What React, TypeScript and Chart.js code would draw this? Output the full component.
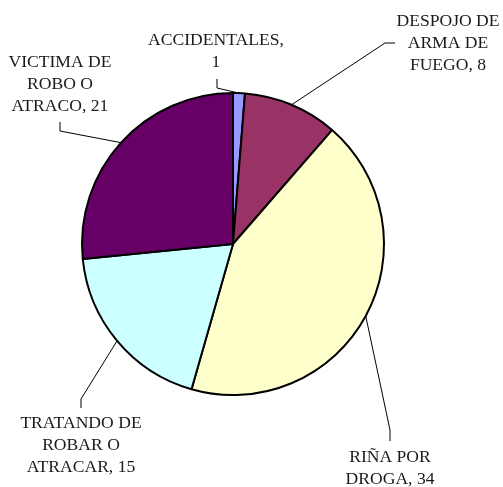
import React, { useEffect, useRef } from "react";
import { Chart, registerables } from "chart.js";

Chart.register(...registerables);

const categories = [
  "ACCIDENTALES",
  "DESPOJO DE ARMA DE FUEGO",
  "RIÑA POR DROGA",
  "TRATANDO DE ROBAR O ATRACAR",
  "VICTIMA DE ROBO O ATRACO",
];
const values = [1, 8, 34, 15, 21];
const colors = ["#9999FF", "#993366", "#FFFFCC", "#CCFFFF", "#660066"];
// words per line for each label
const lineWords = [
  [1, 1],
  [2, 2, 2],
  [2, 2],
  [2, 2, 2],
  [2, 2, 2],
];

// layout: label center x, first line middle y, elbow point, leader end near label
const labelLayout = [
  { x: 216, y: 40, elbow: [217, 88], end: [217, 79] },
  { x: 448, y: 21, elbow: [385, 43], end: [395, 43] },
  { x: 390, y: 457, elbow: [390, 430], end: [390, 441] },
  { x: 81, y: 423, elbow: [81, 399], end: [81, 408] },
  { x: 60, y: 62, elbow: [60, 131], end: [60, 122] },
];

const FONT = '17.6px "Liberation Serif", "Times New Roman", serif';
const LINE_H = 22;

const labelPlugin = {
  id: "pieLabels",
  afterDatasetsDraw(chart: any) {
    const ctx = chart.ctx as CanvasRenderingContext2D;
    const meta = chart.getDatasetMeta(0);
    meta.data.forEach((arc: any, i: number) => {
      const p = arc.getProps(["x", "y", "startAngle", "endAngle", "outerRadius"], true);
      const mid = (p.startAngle + p.endAngle) / 2;
      const ax = p.x + Math.cos(mid) * p.outerRadius;
      const ay = p.y + Math.sin(mid) * p.outerRadius;
      const L = labelLayout[i];
      ctx.save();
      ctx.strokeStyle = "#000";
      ctx.lineWidth = 1;
      ctx.beginPath();
      ctx.moveTo(ax, ay);
      ctx.lineTo(L.elbow[0], L.elbow[1]);
      ctx.lineTo(L.end[0], L.end[1]);
      ctx.stroke();

      const words = `${categories[i]}, ${values[i]}`.split(" ");
      const lines: string[] = [];
      let k = 0;
      for (const n of lineWords[i]) {
        lines.push(words.slice(k, k + n).join(" "));
        k += n;
      }
      ctx.fillStyle = "#1a1a1a";
      ctx.font = FONT;
      ctx.textAlign = "center";
      ctx.textBaseline = "middle";
      lines.forEach((t, j) => ctx.fillText(t, L.x, L.y + j * LINE_H));
      ctx.restore();
    });
  },
};

export default function App() {
  const ref = useRef<HTMLCanvasElement | null>(null);
  useEffect(() => {
    if (!ref.current) return;
    const chart = new Chart(ref.current, {
      type: "pie",
      data: {
        labels: categories,
        datasets: [
          {
            data: values,
            backgroundColor: colors,
            borderColor: "#000",
            borderWidth: 2,
          },
        ],
      },
      options: {
        responsive: false,
        animation: false,
        devicePixelRatio: 1,
        layout: { padding: { left: 81, right: 118, top: 92, bottom: 91 } },
        plugins: {
          legend: { display: false },
          tooltip: { enabled: false },
        },
      },
      plugins: [labelPlugin],
    });
    return () => chart.destroy();
  }, []);
  return (
    <div style={{ position: "absolute", left: 0, top: 0, width: 503, height: 487, background: "#fff" }}>
      <canvas ref={ref} width={503} height={487} />
    </div>
  );
}
